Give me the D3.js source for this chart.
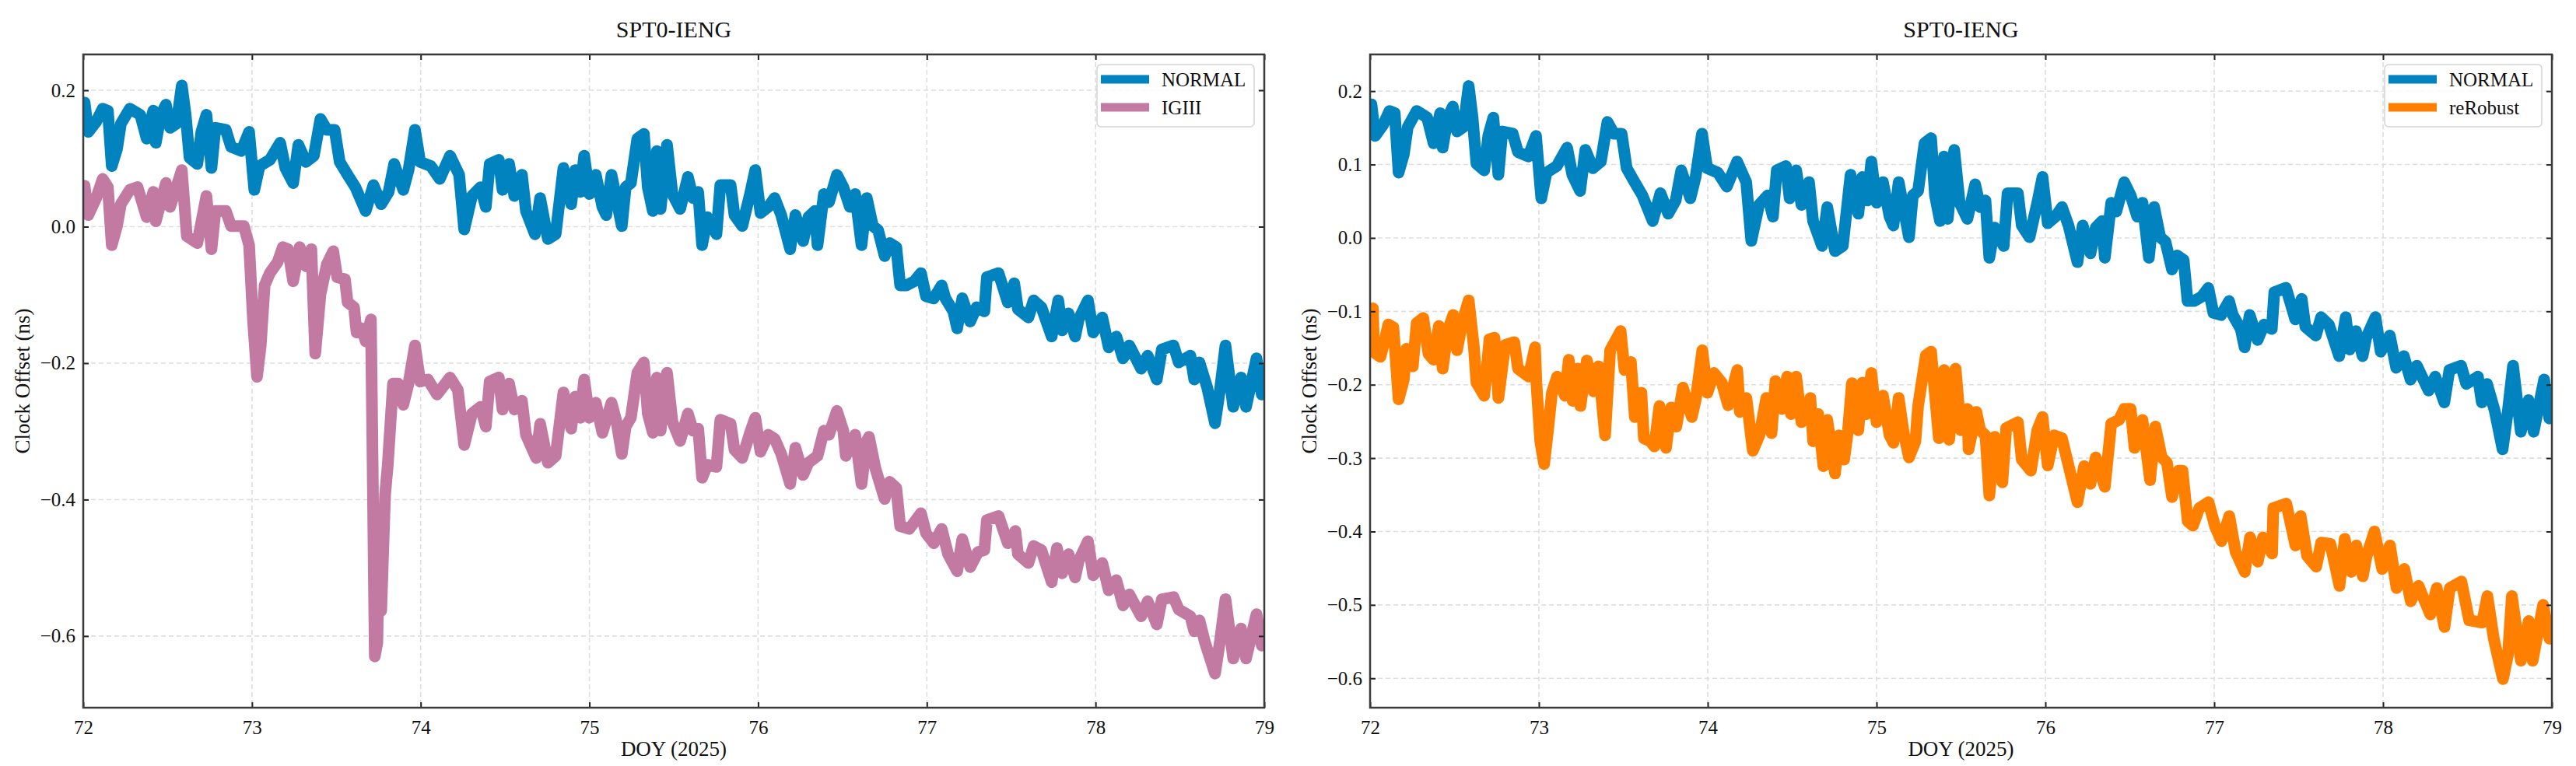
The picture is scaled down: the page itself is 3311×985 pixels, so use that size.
<!DOCTYPE html>
<html lang="en">

<head>
    <meta charset="UTF-8">
    <title>SPT0-IENG clock offset</title>
    <script src="https://d3js.org/d3.v7.min.js"></script>
    <style>
        body {
            margin: 0;
            background: #fff;
            overflow: hidden;
        }

        svg {
            display: block;
        }

        text {
            font-family: "Liberation Serif", "Times New Roman", serif;
            fill: #111;
        }
    </style>
</head>

<body>
    <script>
        // DOY axis ticks
        const doyTicks = [72, 73, 74, 75, 76, 77, 78, 79];

        // NORMAL solution (same series in both panels)
        const doyNormal = [72.000, 72.008, 72.030, 72.077, 72.115, 72.146, 72.169, 72.200, 72.223, 72.276,
            72.338, 72.376, 72.415, 72.430, 72.460, 72.490, 72.515, 72.553, 72.584, 72.607,
            72.630, 72.676, 72.700, 72.730, 72.760, 72.783, 72.845, 72.876, 72.937, 72.983,
            73.014, 73.045, 73.106, 73.167, 73.198, 73.244, 73.275, 73.320, 73.367, 73.406,
            73.444, 73.490, 73.520, 73.567, 73.613, 73.674, 73.720, 73.766, 73.810, 73.843,
            73.897, 73.928, 73.966, 73.997, 74.060, 74.113, 74.174, 74.228, 74.258, 74.304,
            74.355, 74.386, 74.409, 74.463, 74.485, 74.524, 74.555, 74.600, 74.624, 74.677,
            74.708, 74.754, 74.800, 74.846, 74.892, 74.916, 74.946, 74.969, 75.000, 75.038,
            75.077, 75.100, 75.131, 75.161, 75.192, 75.215, 75.246, 75.284, 75.323, 75.346,
            75.376, 75.400, 75.422, 75.460, 75.492, 75.538, 75.584, 75.614, 75.645, 75.668,
            75.699, 75.753, 75.776, 75.837, 75.860, 75.906, 75.952, 75.983, 76.014, 76.060,
            76.098, 76.137, 76.190, 76.221, 76.267, 76.298, 76.336, 76.352, 76.390, 76.420,
            76.467, 76.505, 76.544, 76.575, 76.613, 76.644, 76.680, 76.711, 76.750, 76.780,
            76.819, 76.842, 76.880, 76.926, 76.965, 76.995, 77.041, 77.088, 77.110, 77.157,
            77.180, 77.210, 77.257, 77.295, 77.341, 77.356, 77.425, 77.480, 77.518, 77.540,
            77.602, 77.633, 77.679, 77.740, 77.779, 77.802, 77.840, 77.879, 77.900, 77.955,
            77.986, 78.040, 78.078, 78.123, 78.163, 78.200, 78.270, 78.309, 78.363, 78.393,
            78.462, 78.493, 78.562, 78.585, 78.616, 78.662, 78.708, 78.739, 78.770, 78.816,
            78.862, 78.892, 78.954, 78.985, 79.000];
        const clkNormal = [0.160, 0.182, 0.139, 0.154, 0.173, 0.170, 0.089, 0.114, 0.151, 0.173,
            0.164, 0.129, 0.170, 0.123, 0.164, 0.179, 0.145, 0.151, 0.207, 0.164,
            0.101, 0.092, 0.139, 0.164, 0.086, 0.145, 0.142, 0.117, 0.111, 0.139,
            0.054, 0.089, 0.098, 0.123, 0.086, 0.064, 0.120, 0.095, 0.104, 0.158,
            0.142, 0.142, 0.095, 0.076, 0.058, 0.023, 0.061, 0.033, 0.051, 0.092,
            0.054, 0.083, 0.142, 0.095, 0.089, 0.070, 0.104, 0.076, -0.004, 0.045,
            0.058, 0.029, 0.092, 0.098, 0.054, 0.092, 0.045, 0.076, 0.023, -0.011,
            0.042, -0.018, -0.011, 0.086, 0.033, 0.083, 0.051, 0.104, 0.048, 0.076,
            0.029, 0.017, 0.076, 0.039, 0.001, 0.058, 0.064, 0.129, 0.136, 0.058,
            0.023, 0.111, 0.026, 0.120, 0.048, 0.026, 0.073, 0.042, 0.051, -0.027,
            0.014, -0.011, 0.061, 0.061, 0.017, 0.001, 0.048, 0.083, 0.020, 0.029,
            0.042, 0.017, -0.033, 0.017, -0.021, 0.014, 0.023, -0.027, 0.048, 0.036,
            0.076, 0.058, 0.029, 0.048, -0.027, 0.042, 0.001, -0.005, -0.043, -0.024,
            -0.030, -0.086, -0.086, -0.080, -0.068, -0.102, -0.105, -0.086, -0.105, -0.124,
            -0.149, -0.105, -0.139, -0.118, -0.124, -0.074, -0.068, -0.111, -0.083, -0.121,
            -0.133, -0.108, -0.118, -0.161, -0.108, -0.152, -0.127, -0.161, -0.136, -0.108,
            -0.155, -0.133, -0.177, -0.161, -0.193, -0.174, -0.208, -0.189, -0.224, -0.180,
            -0.174, -0.199, -0.189, -0.224, -0.199, -0.236, -0.288, -0.236, -0.174, -0.264,
            -0.221, -0.264, -0.193, -0.246, -0.232];

        // IGIII solution (left panel)
        const doyIGIII = [72.000, 72.008, 72.030, 72.077, 72.115, 72.146, 72.169, 72.200, 72.223, 72.276,
            72.322, 72.376, 72.415, 72.430, 72.490, 72.515, 72.584, 72.614, 72.676, 72.730,
            72.760, 72.783, 72.845, 72.876, 72.952, 72.983, 73.006, 73.030, 73.052, 73.075,
            73.106, 73.152, 73.183, 73.214, 73.244, 73.283, 73.320, 73.352, 73.375, 73.406,
            73.444, 73.482, 73.505, 73.551, 73.567, 73.605, 73.620, 73.651, 73.674, 73.705,
            73.713, 73.728, 73.743, 73.751, 73.766, 73.789, 73.805, 73.836, 73.866, 73.897,
            73.928, 73.966, 73.997, 74.043, 74.097, 74.174, 74.220, 74.258, 74.304, 74.355,
            74.386, 74.409, 74.463, 74.485, 74.524, 74.555, 74.600, 74.624, 74.685, 74.708,
            74.754, 74.800, 74.846, 74.892, 74.916, 74.946, 74.969, 75.000, 75.038, 75.077,
            75.131, 75.161, 75.192, 75.215, 75.246, 75.284, 75.323, 75.346, 75.376, 75.400,
            75.422, 75.460, 75.492, 75.538, 75.584, 75.614, 75.645, 75.668, 75.699, 75.753,
            75.776, 75.837, 75.860, 75.906, 75.952, 75.983, 76.014, 76.060, 76.098, 76.137,
            76.190, 76.221, 76.267, 76.298, 76.352, 76.390, 76.420, 76.467, 76.505, 76.520,
            76.575, 76.613, 76.644, 76.657, 76.696, 76.750, 76.780, 76.819, 76.842, 76.896,
            76.965, 76.995, 77.041, 77.088, 77.126, 77.180, 77.210, 77.257, 77.303, 77.341,
            77.356, 77.425, 77.480, 77.525, 77.540, 77.602, 77.633, 77.679, 77.740, 77.771,
            77.802, 77.840, 77.879, 77.900, 77.955, 77.986, 78.040, 78.078, 78.123, 78.163,
            78.200, 78.270, 78.309, 78.363, 78.393, 78.462, 78.493, 78.562, 78.585, 78.616,
            78.647, 78.708, 78.739, 78.770, 78.816, 78.862, 78.892, 78.954, 78.985, 79.000];
        const clkIGIII = [0.045, 0.060, 0.017, 0.042, 0.070, 0.058, -0.027, 0.001, 0.033, 0.054,
            0.058, 0.014, 0.051, 0.008, 0.064, 0.029, 0.083, -0.014, -0.024, 0.045,
            -0.033, 0.023, 0.023, 0.001, 0.001, -0.027, -0.136, -0.220, -0.174, -0.086,
            -0.068, -0.052, -0.030, -0.033, -0.080, -0.030, -0.058, -0.033, -0.186, -0.099,
            -0.055, -0.036, -0.074, -0.077, -0.111, -0.118, -0.155, -0.149, -0.168, -0.136,
            -0.300, -0.630, -0.610, -0.499, -0.563, -0.393, -0.349, -0.230, -0.230, -0.261,
            -0.230, -0.174, -0.227, -0.224, -0.246, -0.221, -0.239, -0.320, -0.274, -0.264,
            -0.293, -0.227, -0.221, -0.268, -0.230, -0.268, -0.255, -0.305, -0.339, -0.289,
            -0.346, -0.336, -0.243, -0.296, -0.249, -0.280, -0.224, -0.280, -0.258, -0.302,
            -0.258, -0.286, -0.333, -0.293, -0.280, -0.214, -0.199, -0.274, -0.302, -0.221,
            -0.299, -0.214, -0.286, -0.314, -0.274, -0.299, -0.296, -0.368, -0.349, -0.352,
            -0.283, -0.289, -0.327, -0.339, -0.302, -0.280, -0.330, -0.305, -0.311, -0.333,
            -0.377, -0.324, -0.364, -0.346, -0.336, -0.299, -0.305, -0.270, -0.299, -0.336,
            -0.305, -0.377, -0.314, -0.308, -0.355, -0.399, -0.374, -0.383, -0.439, -0.443,
            -0.420, -0.449, -0.464, -0.443, -0.480, -0.505, -0.458, -0.499, -0.477, -0.474,
            -0.430, -0.424, -0.464, -0.446, -0.480, -0.493, -0.468, -0.474, -0.521, -0.471,
            -0.508, -0.480, -0.514, -0.490, -0.461, -0.511, -0.493, -0.533, -0.518, -0.555,
            -0.539, -0.571, -0.549, -0.583, -0.546, -0.543, -0.561, -0.571, -0.593, -0.577,
            -0.608, -0.655, -0.605, -0.546, -0.633, -0.589, -0.633, -0.568, -0.614, -0.599];

        // reRobust solution (right panel)
        const doyReRobust = [72.000, 72.017, 72.023, 72.061, 72.084, 72.108, 72.138, 72.169, 72.200, 72.215,
            72.253, 72.276, 72.315, 72.346, 72.376, 72.407, 72.430, 72.461, 72.492, 72.515,
            72.545, 72.584, 72.615, 72.630, 72.676, 72.707, 72.737, 72.760, 72.800, 72.854,
            72.876, 72.939, 72.977, 72.985, 73.008, 73.031, 73.054, 73.077, 73.108, 73.154,
            73.177, 73.200, 73.230, 73.246, 73.284, 73.323, 73.353, 73.392, 73.422, 73.484,
            73.507, 73.545, 73.568, 73.607, 73.622, 73.660, 73.684, 73.714, 73.753, 73.783,
            73.814, 73.853, 73.906, 73.929, 73.968, 73.998, 74.037, 74.083, 74.121, 74.175,
            74.190, 74.229, 74.267, 74.306, 74.347, 74.378, 74.401, 74.439, 74.470, 74.493,
            74.524, 74.555, 74.608, 74.624, 74.654, 74.685, 74.708, 74.754, 74.777, 74.808,
            74.831, 74.854, 74.892, 74.916, 74.939, 74.969, 75.000, 75.038, 75.077, 75.100,
            75.131, 75.161, 75.192, 75.230, 75.246, 75.292, 75.323, 75.369, 75.400, 75.430,
            75.468, 75.499, 75.538, 75.545, 75.591, 75.614, 75.645, 75.668, 75.699, 75.745,
            75.768, 75.837, 75.860, 75.914, 75.952, 75.983, 76.014, 76.052, 76.098, 76.137,
            76.190, 76.229, 76.267, 76.298, 76.352, 76.390, 76.436, 76.467, 76.505, 76.528,
            76.575, 76.620, 76.651, 76.689, 76.720, 76.750, 76.790, 76.812, 76.843, 76.874,
            76.912, 76.966, 77.005, 77.043, 77.089, 77.127, 77.181, 77.212, 77.258, 77.289,
            77.343, 77.350, 77.427, 77.481, 77.512, 77.550, 77.604, 77.634, 77.688, 77.742,
            77.773, 77.811, 77.842, 77.880, 77.903, 77.949, 77.995, 78.041, 78.080, 78.126,
            78.164, 78.210, 78.280, 78.318, 78.364, 78.395, 78.464, 78.510, 78.587, 78.618,
            78.656, 78.710, 78.740, 78.763, 78.817, 78.863, 78.886, 78.948, 78.986, 79.000];
        const clkReRobust = [-0.100, -0.096, -0.156, -0.162, -0.142, -0.118, -0.122, -0.220, -0.193, -0.151,
            -0.175, -0.116, -0.109, -0.158, -0.166, -0.120, -0.178, -0.126, -0.105, -0.153,
            -0.116, -0.085, -0.149, -0.197, -0.215, -0.138, -0.136, -0.218, -0.146, -0.142,
            -0.178, -0.189, -0.149, -0.197, -0.277, -0.308, -0.262, -0.211, -0.189, -0.215,
            -0.166, -0.222, -0.178, -0.229, -0.167, -0.209, -0.175, -0.269, -0.153, -0.127,
            -0.180, -0.169, -0.244, -0.211, -0.273, -0.277, -0.284, -0.229, -0.286, -0.231,
            -0.257, -0.204, -0.244, -0.220, -0.153, -0.211, -0.184, -0.197, -0.228, -0.180,
            -0.237, -0.218, -0.290, -0.269, -0.218, -0.266, -0.195, -0.233, -0.189, -0.240,
            -0.189, -0.251, -0.218, -0.277, -0.240, -0.311, -0.248, -0.321, -0.269, -0.302,
            -0.262, -0.198, -0.262, -0.197, -0.240, -0.184, -0.251, -0.215, -0.269, -0.279,
            -0.218, -0.266, -0.299, -0.277, -0.229, -0.160, -0.155, -0.273, -0.180, -0.275,
            -0.178, -0.262, -0.233, -0.288, -0.237, -0.262, -0.269, -0.351, -0.271, -0.333,
            -0.259, -0.251, -0.302, -0.317, -0.262, -0.244, -0.310, -0.269, -0.273, -0.310,
            -0.360, -0.311, -0.335, -0.299, -0.339, -0.253, -0.248, -0.233, -0.233, -0.286,
            -0.248, -0.330, -0.257, -0.299, -0.306, -0.353, -0.317, -0.317, -0.386, -0.392,
            -0.368, -0.360, -0.393, -0.413, -0.379, -0.428, -0.455, -0.408, -0.441, -0.408,
            -0.430, -0.368, -0.362, -0.419, -0.379, -0.433, -0.448, -0.415, -0.417, -0.474,
            -0.410, -0.455, -0.419, -0.461, -0.433, -0.400, -0.451, -0.419, -0.477, -0.451,
            -0.495, -0.474, -0.513, -0.477, -0.530, -0.477, -0.468, -0.521, -0.524, -0.488,
            -0.546, -0.601, -0.568, -0.488, -0.576, -0.522, -0.576, -0.500, -0.546, -0.532];

        // y ranges and ticks of the two panels
        const yDomainLeft = [-0.705, 0.2525];
        const yTicksLeft = [-0.6, -0.4, -0.2, 0.0, 0.2];
        const yDomainRight = [-0.640, 0.250];
        const yTicksRight = [-0.6, -0.5, -0.4, -0.3, -0.2, -0.1, 0.0, 0.1, 0.2];

        const colorNormal = "#0083bf";
        const colorIGIII = "#c27aa2";
        const colorReRobust = "#ff8000";

        const width = 3311;
        const height = 985;

        const svg = d3.select("body").append("svg")
            .attr("width", width)
            .attr("height", height);

        svg.append("rect").attr("width", width).attr("height", height).attr("fill", "#fff");

        function toPoints(doys, vals) {
            return doys.map((d, i) => ({ doy: d, v: vals[i] }));
        }

        function drawPanel(opts) {
            const left = opts.left, right = opts.right, top = 70, bottom = 910;

            const x = d3.scaleLinear().domain([72, 79]).range([left, right]);
            const y = d3.scaleLinear().domain(opts.yDomain).range([bottom, top]);

            const g = svg.append("g");

            // clip for the thick lines
            const clipId = "clip-" + opts.id;
            svg.append("clipPath").attr("id", clipId)
                .append("rect")
                .attr("x", left).attr("y", top)
                .attr("width", right - left).attr("height", bottom - top);

            // dashed grid
            const grid = g.append("g")
                .attr("stroke", "#dedede")
                .attr("stroke-width", 1.6)
                .attr("stroke-dasharray", "6,4");
            grid.selectAll(".gx").data(doyTicks.slice(1, -1)).enter().append("line")
                .attr("x1", d => x(d)).attr("x2", d => x(d))
                .attr("y1", top).attr("y2", bottom);
            grid.selectAll(".gy").data(opts.yTicks).enter().append("line")
                .attr("x1", left).attr("x2", right)
                .attr("y1", d => y(d)).attr("y2", d => y(d));

            // series (very thick, like the dense original traces)
            const line = d3.line().x(d => x(d.doy)).y(d => y(d.v));
            const lines = g.append("g").attr("clip-path", `url(#${clipId})`);
            opts.series.forEach(s => {
                lines.append("path")
                    .datum(toPoints(s.doy, s.vals))
                    .attr("fill", "none")
                    .attr("stroke", s.color)
                    .attr("stroke-width", 15)
                    .attr("stroke-linejoin", "round")
                    .attr("stroke-linecap", "round")
                    .attr("d", line);
            });

            // axes with inward ticks on all four sides
            const fmt = d3.format(".1f");
            const axB = g.append("g").attr("transform", `translate(0,${bottom})`)
                .call(d3.axisBottom(x).tickValues(doyTicks).tickFormat(d3.format("d")).tickSize(-7).tickPadding(16));
            const axT = g.append("g").attr("transform", `translate(0,${top})`)
                .call(d3.axisTop(x).tickValues(doyTicks).tickFormat("").tickSize(-7));
            const axL = g.append("g").attr("transform", `translate(${left},0)`)
                .call(d3.axisLeft(y).tickValues(opts.yTicks).tickFormat(fmt).tickSize(-7).tickPadding(10));
            const axR = g.append("g").attr("transform", `translate(${right},0)`)
                .call(d3.axisRight(y).tickValues(opts.yTicks).tickFormat("").tickSize(-7));

            [axB, axT, axL, axR].forEach(a => {
                a.select(".domain").remove();
                a.selectAll(".tick line").attr("stroke", "#222").attr("stroke-width", 2);
                a.selectAll(".tick text")
                    .attr("font-family", "'Liberation Serif', 'Times New Roman', serif")
                    .attr("font-size", 25)
                    .attr("fill", "#111");
            });

            // frame
            g.append("rect")
                .attr("x", left).attr("y", top)
                .attr("width", right - left).attr("height", bottom - top)
                .attr("fill", "none")
                .attr("stroke", "#3a3a3a")
                .attr("stroke-width", 2.5);

            // title and axis labels
            g.append("text")
                .attr("x", (left + right) / 2).attr("y", 48)
                .attr("text-anchor", "middle")
                .attr("font-size", 30)
                .text("SPT0-IENG");

            g.append("text")
                .attr("x", (left + right) / 2).attr("y", 972)
                .attr("text-anchor", "middle")
                .attr("font-size", 27)
                .text("DOY (2025)");

            g.append("text")
                .attr("transform", `translate(${left - 69},${(top + bottom) / 2}) rotate(-90)`)
                .attr("text-anchor", "middle")
                .attr("font-size", 27)
                .text("Clock Offset (ns)");

            // legend
            const lx = right - 215, ly = 83;
            const lg = g.append("g").attr("transform", `translate(${lx},${ly})`);
            lg.append("rect")
                .attr("width", 202).attr("height", 80)
                .attr("rx", 5)
                .attr("fill", "#fff").attr("fill-opacity", 0.85)
                .attr("stroke", "#d4d4d4").attr("stroke-width", 1.5);
            opts.series.forEach((s, i) => {
                const cy = 19 + i * 36;
                lg.append("line")
                    .attr("x1", 5).attr("x2", 67)
                    .attr("y1", cy).attr("y2", cy)
                    .attr("stroke", s.color)
                    .attr("stroke-width", 11);
                lg.append("text")
                    .attr("x", 83).attr("y", cy + 9)
                    .attr("font-size", 25)
                    .text(s.name);
            });
        }

        drawPanel({
            id: "igiii",
            left: 107,
            right: 1625,
            yDomain: yDomainLeft,
            yTicks: yTicksLeft,
            series: [
                { name: "NORMAL", doy: doyNormal, vals: clkNormal, color: colorNormal },
                { name: "IGIII", doy: doyIGIII, vals: clkIGIII, color: colorIGIII }
            ]
        });

        drawPanel({
            id: "rerobust",
            left: 1761,
            right: 3280,
            yDomain: yDomainRight,
            yTicks: yTicksRight,
            series: [
                { name: "NORMAL", doy: doyNormal, vals: clkNormal, color: colorNormal },
                { name: "reRobust", doy: doyReRobust, vals: clkReRobust, color: colorReRobust }
            ]
        });
    </script>
</body>

</html>
